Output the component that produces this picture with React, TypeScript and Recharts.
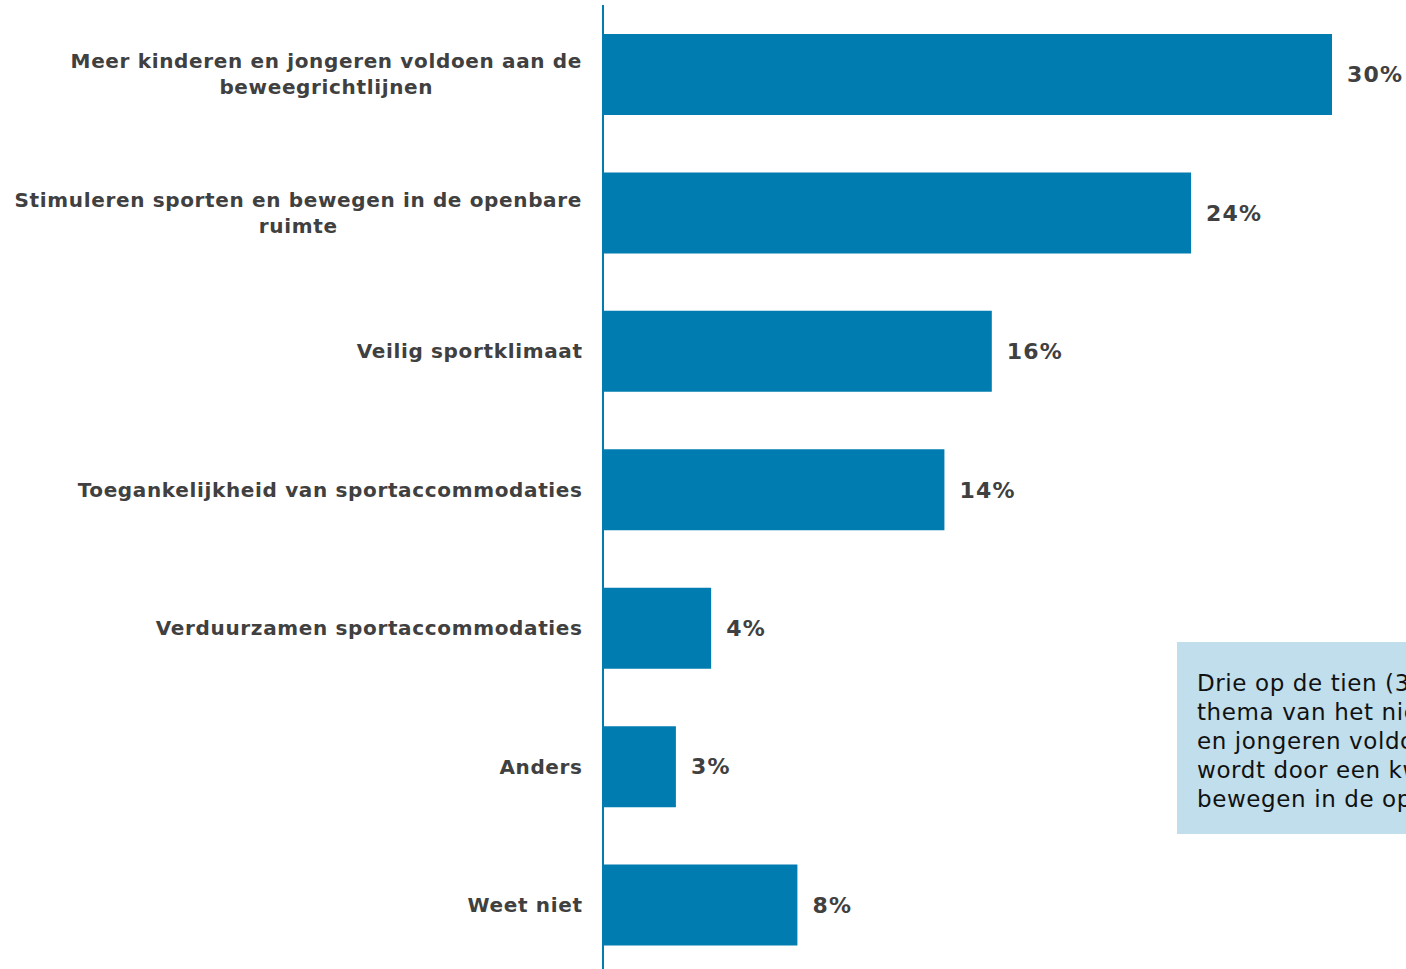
import { Bar, BarChart, LabelList, XAxis, YAxis } from 'recharts'

const categories = [
  'Meer kinderen en jongeren voldoen aan de|beweegrichtlijnen',
  'Stimuleren sporten en bewegen in de openbare|ruimte',
  'Veilig sportklimaat',
  'Toegankelijkheid van sportaccommodaties',
  'Verduurzamen sportaccommodaties',
  'Anders',
  'Weet niet',
]
const percentages = [30, 24.2, 16, 14.05, 4.45, 3, 8]

const noteLines = [
  'Drie op de tien (30%) vindt het belangrijkste',
  'thema van het nieuwe sportakkoord dat kinderen',
  'en jongeren voldoen aan de beweegrichtlijnen. Dit',
  'wordt door een kwart gevolgd: stimuleren sporten en',
  'bewegen in de openbare ruimte (24%).',
]

const BLUE = '#007cb0'
const TEXT = '#404040'
const FONT = '"DejaVu Sans", Verdana, sans-serif'
const LABEL_SIZE = 20
const LABEL_SPACING = 0.65
const VALUE_SIZE = 22
const VALUE_SPACING = 1.2
const LABEL_RIGHT = 582

const data = categories.map((categorie, i) => ({ categorie, waarde: percentages[i] }))

let ctx: CanvasRenderingContext2D | null = null
function textWidth(s: string) {
  if (!ctx) ctx = document.createElement('canvas').getContext('2d')
  if (!ctx) return s.length * 13
  ctx.font = `bold ${LABEL_SIZE}px ${FONT}`
  return ctx.measureText(s).width + s.length * LABEL_SPACING
}

function CategoryTick(props: any) {
  const { y, payload } = props
  const lines: string[] = String(payload.value).split('|')
  const lineHeight = 26
  const startY = y - ((lines.length - 1) * lineHeight) / 2
  if (lines.length === 1) {
    return (
      <text x={LABEL_RIGHT + LABEL_SPACING} y={y} dy="0.36em" textAnchor="end" fill={TEXT}
        fontFamily={FONT} fontSize={LABEL_SIZE} fontWeight="bold" letterSpacing={LABEL_SPACING}>
        {lines[0]}
      </text>
    )
  }
  const w = Math.max(...lines.map(textWidth))
  const cx = LABEL_RIGHT - w / 2
  return (
    <text x={cx} y={startY} textAnchor="middle" fill={TEXT}
      fontFamily={FONT} fontSize={LABEL_SIZE} fontWeight="bold" letterSpacing={LABEL_SPACING}>
      {lines.map((l, i) => (
        <tspan key={i} x={cx} y={startY + i * lineHeight} dy="0.36em">{l}</tspan>
      ))}
    </text>
  )
}

export default function App() {
  return (
    <div style={{ position: 'absolute', left: 0, top: 0, width: 1406, height: 969, overflow: 'hidden', background: '#fff' }}>
      <BarChart
        width={1406}
        height={975}
        data={data}
        layout="vertical"
        margin={{ top: 5, right: 74, bottom: 1, left: 0 }}
      >
        <XAxis type="number" domain={[0, 30]} hide />
        <YAxis
          type="category"
          dataKey="categorie"
          width={603}
          axisLine={{ stroke: BLUE, strokeWidth: 2 }}
          tickLine={false}
          tick={<CategoryTick />}
          interval={0}
        />
        <Bar dataKey="waarde" fill={BLUE} barSize={81} isAnimationActive={false}>
          <LabelList
            dataKey="waarde"
            position="right"
            offset={15}
            formatter={(v: any) => `${Math.round(Number(v))}%`}
            fill={TEXT}
            fontFamily={FONT}
            fontSize={VALUE_SIZE}
            fontWeight="bold"
            letterSpacing={VALUE_SPACING}
          />
        </Bar>
      </BarChart>
      <div
        style={{
          position: 'absolute',
          left: 1177,
          top: 642,
          width: 620,
          height: 192,
          boxSizing: 'border-box',
          background: '#c0deeb',
          padding: '27px 0 0 20px',
          fontFamily: FONT,
          fontSize: 23,
          letterSpacing: 0.6,
          lineHeight: '29px',
          color: '#111',
          whiteSpace: 'nowrap',
        }}
      >
        {noteLines.map((l, i) => (
          <div key={i}>{l}</div>
        ))}
      </div>
    </div>
  )
}
